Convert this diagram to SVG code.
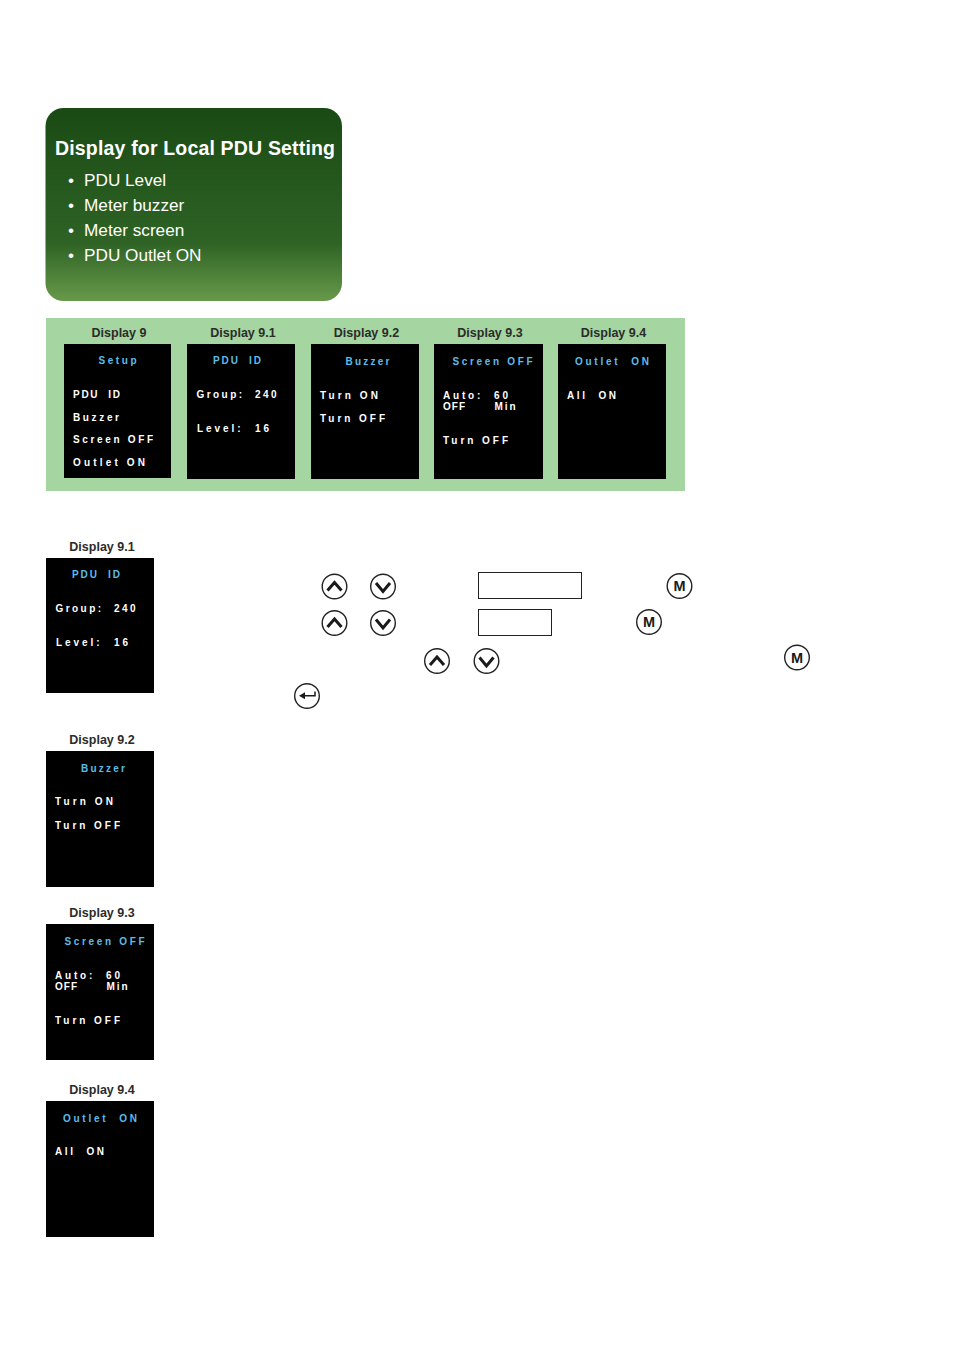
<svg xmlns="http://www.w3.org/2000/svg" width="954" height="1350" viewBox="0 0 954 1350">
<style>
text{font-family:"Liberation Sans",Arial,sans-serif;white-space:pre}
.lb{font-size:12.500px;font-weight:700;fill:#2b2b2b;text-anchor:middle}
.h{font-size:10px;font-weight:700;fill:#5bbdea}
.t{font-size:10px;font-weight:700;fill:#fff}
.scr{fill:#000}
.btn{fill:#fff;stroke:#222;stroke-width:1.4}
.ch{fill:none;stroke:#1a1a1a;stroke-width:3}
.m{font-size:14.500px;font-weight:700;fill:#1a1a1a;text-anchor:middle}
.li{font-size:17.200px;fill:#fff}
.box{fill:#fff;stroke:#222;stroke-width:1}
</style>
<defs>
<linearGradient id="g" x1="0" y1="0" x2="0" y2="1">
<stop offset="0" stop-color="#1a4a14"/><stop offset=".7" stop-color="#2e6325"/><stop offset="1" stop-color="#68994a"/>
</linearGradient>
<symbol id="up" overflow="visible"><circle class="btn" r="12.300"/><path class="ch" d="M-7 4L0-4L7 4"/></symbol>
<symbol id="dn" overflow="visible"><circle class="btn" r="12.300"/><path class="ch" d="M-7-3.500L0 5L7-3.500"/></symbol>
<symbol id="mb" overflow="visible"><circle class="btn" r="12.300"/><text class="m" y="5">M</text></symbol>
</defs>
<g id="title-card">
<rect x="45.500" y="108" width="296.500" height="193" rx="18" fill="url(#g)"/>
<text x="55" y="155" font-size="19.500" font-weight="700" fill="#fff" textLength="280">Display for Local PDU Setting</text>
<text class="li" x="68" y="186">•</text><text class="li" x="84" y="186">PDU Level</text>
<text class="li" x="68" y="211">•</text><text class="li" x="84" y="211">Meter buzzer</text>
<text class="li" x="68" y="236">•</text><text class="li" x="84" y="236">Meter screen</text>
<text class="li" x="68" y="261">•</text><text class="li" x="84" y="261">PDU Outlet ON</text>
</g>
<g id="panel"><rect x="46" y="318" width="639" height="173" fill="#a5d5a0"/></g>
<g id="d9">
<text class="lb" x="119" y="337">Display 9</text><rect class="scr" x="64" y="344" width="107" height="134"/>
<text class="h" x="98.500" y="363.500" textLength="38">Setup</text>
<text class="t" x="73" y="397.500" textLength="47">PDU  ID</text>
<text class="t" x="73" y="421" textLength="46">Buzzer</text>
<text class="t" x="73" y="442.500" textLength="80">Screen OFF</text>
<text class="t" x="73" y="465.500" textLength="72">Outlet ON</text>
</g>
<g id="d91">
<text class="lb" x="243" y="337">Display 9.1</text><rect class="scr" x="187" y="344" width="108" height="135"/>
<text class="h" x="213" y="364" textLength="48">PDU  ID</text>
<text class="t" x="196.500" y="398" textLength="80">Group:  240</text>
<text class="t" x="197" y="431.500" textLength="72">Level:  16</text>
</g>
<g id="d92">
<text class="lb" x="366.500" y="337">Display 9.2</text><rect class="scr" x="311" y="344" width="108" height="135"/>
<text class="h" x="345.500" y="364.500" textLength="44">Buzzer</text>
<text class="t" x="320" y="398.500" textLength="58">Turn ON</text>
<text class="t" x="320" y="421.500" textLength="65">Turn OFF</text>
</g>
<g id="d93">
<text class="lb" x="490" y="337">Display 9.3</text><rect class="scr" x="434" y="344" width="109" height="135"/>
<text class="h" x="452.500" y="364.500" textLength="80">Screen OFF</text>
<text class="t" x="443" y="398.500" textLength="65">Auto:  60</text>
<text class="t" x="443" y="410" textLength="22">OFF</text><text class="t" x="494.500" y="410" textLength="21">Min</text>
<text class="t" x="443" y="443.500" textLength="65">Turn OFF</text>
</g>
<g id="d94">
<text class="lb" x="613.500" y="337">Display 9.4</text><rect class="scr" x="558" y="344" width="108" height="135"/>
<text class="h" x="575" y="364.500" textLength="74">Outlet  ON</text>
<text class="t" x="567" y="398.500" textLength="49">All  ON</text>
</g>
<g id="s91">
<text class="lb" x="102" y="551">Display 9.1</text><rect class="scr" x="46" y="558" width="108" height="135"/>
<text class="h" x="72" y="578" textLength="48">PDU  ID</text>
<text class="t" x="55.500" y="612" textLength="80">Group:  240</text>
<text class="t" x="56" y="645.500" textLength="72">Level:  16</text>
</g>
<g id="s92">
<text class="lb" x="102" y="744">Display 9.2</text><rect class="scr" x="46" y="751" width="108" height="136"/>
<text class="h" x="81" y="772" textLength="44">Buzzer</text>
<text class="t" x="55" y="805" textLength="58">Turn ON</text>
<text class="t" x="55" y="828.500" textLength="65">Turn OFF</text>
</g>
<g id="s93">
<text class="lb" x="102" y="917">Display 9.3</text><rect class="scr" x="46" y="924" width="108" height="136"/>
<text class="h" x="64.500" y="945" textLength="80">Screen OFF</text>
<text class="t" x="55" y="978.500" textLength="65">Auto:  60</text>
<text class="t" x="55" y="990" textLength="22">OFF</text><text class="t" x="106.500" y="990" textLength="21">Min</text>
<text class="t" x="55" y="1024" textLength="65">Turn OFF</text>
</g>
<g id="s94">
<text class="lb" x="102" y="1094">Display 9.4</text><rect class="scr" x="46" y="1101" width="108" height="136"/>
<text class="h" x="63" y="1122" textLength="74">Outlet  ON</text>
<text class="t" x="55" y="1155" textLength="49">All  ON</text>
</g>
<g id="buttons">
<use href="#up" x="334.500" y="586.500"/><use href="#dn" x="383" y="586.500"/>
<use href="#up" x="334.500" y="623"/><use href="#dn" x="383" y="623"/>
<use href="#up" x="437" y="661"/><use href="#dn" x="486.500" y="661"/>
<use href="#mb" x="679.500" y="586"/><use href="#mb" x="649" y="622"/><use href="#mb" x="797" y="657.500"/>
<circle class="btn" cx="307" cy="696" r="12.300"/>
<path d="M315 691.500V695.800H303" fill="none" stroke="#1a1a1a" stroke-width="1.500"/><path d="M299 695.800L305 692.300V699.300Z" fill="#1a1a1a"/>
<rect class="box" x="478.500" y="572.500" width="103" height="26"/>
<rect class="box" x="478.500" y="609.500" width="73" height="26"/>
</g>
</svg>
